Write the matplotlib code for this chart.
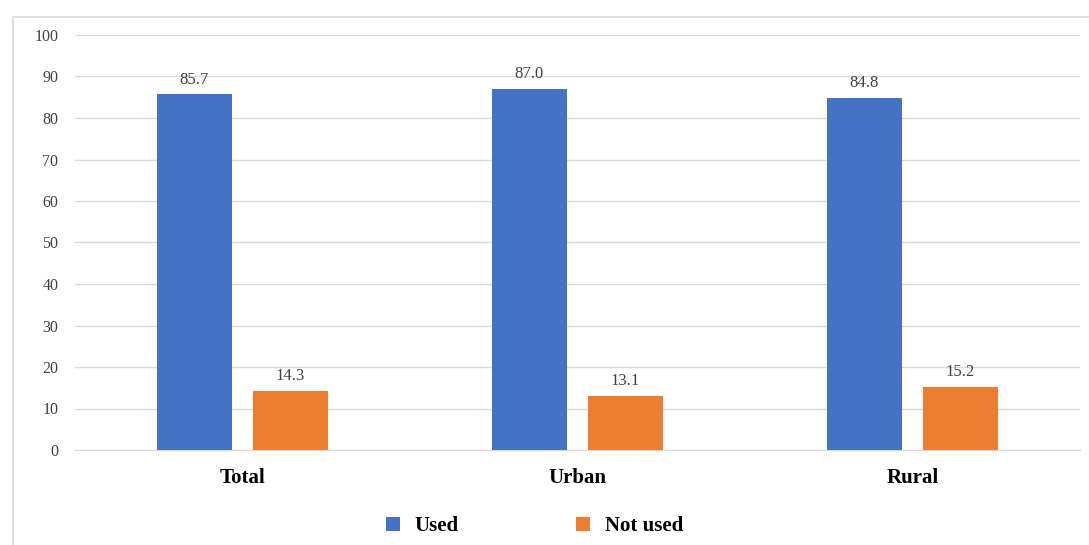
import matplotlib.pyplot as plt
import matplotlib.patches as mpatches
import numpy as np

plt.rcParams['font.family'] = ['Liberation Serif', 'DejaVu Serif']

categorias = ['Total', 'Urban', 'Rural']
usado = [85.7, 87.0, 84.8]
no_usado = [14.3, 13.1, 15.2]

AZUL = '#4472C4'
NARANJA = '#ED7D31'

fig = plt.figure(figsize=(10.89, 5.45), dpi=100)
ax = fig.add_axes([75 / 1089, 1 - 450 / 545, 1005 / 1089, 415 / 545])

# marco exterior del gráfico
fig.patches.append(mpatches.Rectangle((13 / 1089, -0.01), 1.0, 1 - 17 / 545 + 0.01,
                                      transform=fig.transFigure, fill=False,
                                      edgecolor='#d9d9d9', linewidth=1.2))

x = np.arange(len(categorias)) + 0.5
ancho = 0.224
sep = 0.063

b1 = ax.bar(x - (ancho + sep) / 2, usado, ancho, color=AZUL, label='Used', zorder=3)
b2 = ax.bar(x + (ancho + sep) / 2, no_usado, ancho, color=NARANJA, label='Not used', zorder=3)

for barras in (b1, b2):
    for b in barras:
        ax.text(b.get_x() + b.get_width() / 2, b.get_height() + 1.6, f'{b.get_height():.1f}',
                ha='center', va='bottom', fontsize=12, color='#404040')

ax.set_xlim(0, 3)
ax.set_ylim(0, 100)
ax.set_yticks(range(0, 101, 10))
ax.yaxis.grid(True, color='#d9d9d9', linewidth=1, zorder=0)
ax.set_axisbelow(True)
for s in ('top', 'right', 'left'):
    ax.spines[s].set_visible(False)
ax.spines['bottom'].set_color('#d9d9d9')
ax.tick_params(axis='y', length=0, labelsize=11.5, labelcolor='#404040', pad=12)
ax.tick_params(axis='x', length=0, pad=13)
ax.set_xticks(x)
ax.set_xticklabels(categorias, fontsize=15, fontweight='bold', color='black')

ley = ax.legend(loc='upper center', bbox_to_anchor=(0.457, -0.115), ncol=2, frameon=False,
                prop={'size': 15, 'weight': 'bold'}, handlelength=0.7, handleheight=0.7,
                handletextpad=0.7, columnspacing=5.6)

fig.savefig('out.png', dpi=100)
